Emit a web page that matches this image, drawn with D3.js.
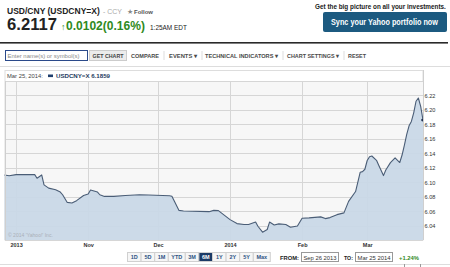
<!DOCTYPE html>
<html><head><meta charset="utf-8">
<script src="https://cdn.jsdelivr.net/npm/d3@7"></script>
<style>
html,body{margin:0;padding:0;background:#fff;}
svg{display:block;}
text{font-family:"Liberation Sans",Arial,sans-serif;}
</style></head>
<body>
<svg id="c" width="450" height="267"></svg>
<script>
// ---- data ----
const dates = ["2013-09-26","2013-09-28","2013-10-01","2013-10-09","2013-10-10","2013-10-12","2013-10-13","2013-10-15","2013-10-18","2013-10-20","2013-10-21","2013-10-23","2013-10-25","2013-10-27","2013-10-30","2013-11-01","2013-11-02","2013-11-05","2013-11-06","2013-11-08","2013-11-12","2013-11-17","2013-11-23","2013-11-27","2013-12-06","2013-12-07","2013-12-10","2013-12-12","2013-12-23","2013-12-25","2013-12-27","2014-01-01","2014-01-04","2014-01-07","2014-01-09","2014-01-12","2014-01-13","2014-01-15","2014-01-17","2014-01-18","2014-01-20","2014-01-22","2014-01-25","2014-01-27","2014-01-30","2014-02-01","2014-02-04","2014-02-09","2014-02-11","2014-02-13","2014-02-16","2014-02-19","2014-02-21","2014-02-24","2014-02-26","2014-02-27","2014-02-28","2014-03-01","2014-03-02","2014-03-03","2014-03-05","2014-03-06","2014-03-08","2014-03-09","2014-03-11","2014-03-13","2014-03-15","2014-03-16","2014-03-17","2014-03-18","2014-03-19","2014-03-20","2014-03-21","2014-03-22","2014-03-23","2014-03-24","2014-03-25"];
const values = [6.1100,6.1090,6.1105,6.1105,6.1055,6.1100,6.0963,6.0918,6.0895,6.0863,6.0826,6.0720,6.0712,6.0744,6.0816,6.0836,6.0891,6.0863,6.0826,6.0803,6.0803,6.0816,6.0826,6.0822,6.0812,6.0805,6.0610,6.0602,6.0592,6.0610,6.0606,6.0482,6.0427,6.0414,6.0414,6.0448,6.0390,6.0308,6.0345,6.0448,6.0407,6.0423,6.0414,6.0377,6.0393,6.0500,6.0506,6.0520,6.0496,6.0510,6.0551,6.0575,6.0734,6.0871,6.1138,6.1146,6.1179,6.1300,6.1352,6.1362,6.1303,6.1230,6.1091,6.1169,6.1270,6.1336,6.1272,6.1376,6.1513,6.1660,6.1780,6.1840,6.1960,6.2120,6.2165,6.2050,6.1859];
const yTicks = [6.04,6.06,6.08,6.10,6.12,6.14,6.16,6.18,6.20,6.22];
const yGrid = [6.04,6.06,6.08,6.10,6.12,6.14,6.16,6.18,6.20,6.22,6.24];
const xTickDates = ["2013-10-01","2013-11-01","2013-12-01","2014-01-01","2014-02-01","2014-03-01"];
const xTickLabels = ["2013","Nov","Dec","2014","Feb","Mar"];
const rangeButtons = ["1D","5D","1M","YTD","3M","6M","1Y","2Y","5Y","Max"];
const selectedRange = "6M";
const toolbarItems = ["COMPARE","EVENTS \u25BE","TECHNICAL INDICATORS \u25BE","CHART SETTINGS \u25BE","RESET"];
const title = "USD/CNY (USDCNY=X)";
const price = "6.2117";
const change = "0.0102(0.16%)";
const timeLabel = "1:25AM EDT";
const legendDate = "Mar 25, 2014:";
const legendSeries = "USDCNY=X 6.1859";
const fromDate = "Sep 26 2013", toDate = "Mar 25 2014", pctChange = "+1.24%";

// ---- drawing ----
const svg = d3.select("#c");
const parse = d3.timeParse("%Y-%m-%d");
const data = dates.map((d,i)=>({d:parse(d), v:values[i]}));

// text helper: if width w is given, the text is scaled horizontally to that width
function txt(x,y,s,o){
  o=o||{};
  const t=svg.append("text").attr("x",0).attr("y",0).text(s)
    .attr("font-size",o.size||6).attr("fill",o.fill||"#333")
    .attr("font-weight",o.bold?"bold":"normal")
    .attr("text-anchor",o.anchor||"start");
  if(o.family) t.attr("font-family",o.family);
  let sx=1;
  if(o.w){ const len=t.node().getComputedTextLength(); if(len>0) sx=o.w/len; }
  t.attr("transform",`translate(${x},${y}) scale(${sx},1)`);
  return t;
}

// header
txt(7,14,title,{size:8.6,bold:true,fill:"#222",w:93});
txt(103,14,"- CCY",{size:6.5,fill:"#aaa",w:19});
txt(127,14,"\u2605",{size:6.5,fill:"#888"});
txt(134,14,"Follow",{size:6,fill:"#555",bold:true,w:19});
txt(7,30,price,{size:16.8,bold:true,fill:"#222",w:50});
txt(61,30,"\u2191",{size:9,bold:true,fill:"#2f8a22"});
txt(66,30,change,{size:12,bold:true,fill:"#2f8a22",w:79});
txt(150,29.5,timeLabel,{size:6.5,fill:"#222",w:37});
txt(315,9,"Get the big picture on all your investments.",{size:7,bold:true,fill:"#222",w:131});
svg.append("rect").attr("x",323).attr("y",12).attr("width",124).attr("height",20).attr("rx",2).attr("fill","#1c5a80");
txt(331,25,"Sync your Yahoo portfolio now",{size:8.5,bold:true,fill:"#fff",w:107});
svg.append("rect").attr("x",0).attr("y",42).attr("width",448).attr("height",1.6).attr("fill","#2a2a2a");

// toolbar
svg.append("rect").attr("x",5.5).attr("y",50.5).attr("width",82).attr("height",10).attr("fill","#fff").attr("stroke","#2b4a8a").attr("stroke-width",1);
txt(7.5,57.8,"Enter name(s) or symbol(s)",{size:6,fill:"#888",w:72});
svg.append("rect").attr("x",89.5).attr("y",50.5).attr("width",37).attr("height",10).attr("fill","#ececec").attr("stroke","#ccc");
txt(92.5,57.8,"GET CHART",{size:5.6,bold:true,fill:"#444",w:31});
const tbX=[131,169,205,287,348], tbW=[28,28,73,52,18];
toolbarItems.forEach((s,i)=>{
  txt(tbX[i],57.8,s,{size:5.6,bold:true,fill:"#4a4a4a",w:tbW[i]});
  if(i<toolbarItems.length-1){
    svg.append("line").attr("x1",tbX[i]+tbW[i]+5).attr("x2",tbX[i]+tbW[i]+5).attr("y1",51).attr("y2",60).attr("stroke","#ddd");
  }
});
svg.append("line").attr("x1",0).attr("x2",450).attr("y1",66.5).attr("y2",66.5).attr("stroke","#ddd");

// chart
const L=5, R=423, T=81, B=240;
const x = d3.scaleTime().domain([parse("2013-09-26"),parse("2014-03-25")]).range([4.5,423]);
const y = d3.scaleLinear().domain([6.02,6.24]).range([B,T]);

svg.append("rect").attr("x",L).attr("y",70.5).attr("width",R-L).attr("height",B-70.5).attr("fill","#fff").attr("stroke","#ddd");
svg.append("rect").attr("x",L).attr("y",T).attr("width",R-L).attr("height",B-T).attr("fill","#f7f7f7");

// legend
txt(7,77.8,legendDate,{size:5.4,fill:"#444",family:"DejaVu Sans",w:36});
svg.append("rect").attr("x",48).attr("y",74.5).attr("width",5).attr("height",2.6).attr("fill","#1f3f6e");
txt(56,77.8,legendSeries,{size:5.4,bold:true,fill:"#1f3a60",family:"DejaVu Sans",w:54});

// grid
const g = svg.append("g");
g.selectAll("line.h").data(yGrid).join("line").attr("class","h")
  .attr("x1",L).attr("x2",R).attr("y1",d=>Math.round(y(d))+0.5).attr("y2",d=>Math.round(y(d))+0.5)
  .attr("stroke","#d6d6d6");
g.selectAll("line.v").data(xTickDates).join("line").attr("class","v")
  .attr("x1",d=>Math.round(x(parse(d)))+0.5).attr("x2",d=>Math.round(x(parse(d)))+0.5)
  .attr("y1",T).attr("y2",B).attr("stroke","#d6d6d6");

// area + line
const area = d3.area().x(d=>x(d.d)).y0(B).y1(d=>y(d.v));
const line = d3.line().x(d=>x(d.d)).y(d=>y(d.v));
svg.append("path").datum(data).attr("d",area).attr("fill","#c9d8e7").attr("fill-opacity",0.95);
svg.append("path").datum(data).attr("d",line).attr("fill","none").attr("stroke","#4a5d76").attr("stroke-width",1.1).attr("stroke-linejoin","round");
const last = data[data.length-1];
svg.append("circle").attr("cx",x(last.d)-0.5).attr("cy",y(last.v)).attr("r",1.3).attr("fill","#1f3050");

// border lines
svg.append("line").attr("x1",L+0.5).attr("x2",L+0.5).attr("y1",T).attr("y2",B).attr("stroke","#cfcfcf");
svg.append("line").attr("x1",R+0.5).attr("x2",R+0.5).attr("y1",70).attr("y2",B).attr("stroke","#cfcfcf");
svg.append("line").attr("x1",L).attr("x2",R).attr("y1",B+0.5).attr("y2",B+0.5).attr("stroke","#d6d6d6");

txt(8,237.3,"\u00A9 2014 'Yahoo!' Inc.",{size:5,fill:"#aab0b8",family:"DejaVu Sans",w:45});

// y axis
const yAxis = svg.append("g").attr("transform",`translate(${R},0)`)
  .call(d3.axisRight(y).tickValues(yTicks).tickFormat(d3.format(".2f")).tickSize(0).tickPadding(1.5));
yAxis.select(".domain").remove();
yAxis.selectAll("text").attr("font-family","DejaVu Sans").attr("font-size",5.6).attr("fill","#333").attr("dy","0.35em");

// x axis
const xAxis = svg.append("g").attr("transform",`translate(0,${B})`)
  .call(d3.axisBottom(x).tickValues(xTickDates.map(parse)).tickFormat((d,i)=>xTickLabels[i]).tickSize(0).tickPadding(3));
xAxis.select(".domain").remove();
xAxis.selectAll("text").attr("font-family","DejaVu Sans").attr("font-size",5.5).attr("font-weight","bold").attr("fill","#333")
  .attr("x",function(d){ const px=x(d); return Math.max(px,13)-px; }).attr("dy","0.71em");

// range buttons
let bx=127;
rangeButtons.forEach(s=>{
  const w = 6.8 + s.length*3.4;
  const sel = s===selectedRange;
  svg.append("rect").attr("x",bx+0.5).attr("y",252.5).attr("width",w).attr("height",9).attr("fill",sel?"#1b3a66":"#f6f6f6").attr("stroke","#d0d0d0");
  txt(bx+0.5+w/2,259.3,s,{size:5.5,bold:true,fill:sel?"#fff":"#2d5384",anchor:"middle",family:"DejaVu Sans"});
  bx+=w;
});

// from / to
txt(280,259.5,"FROM:",{size:6,bold:true,fill:"#222",w:19});
svg.append("rect").attr("x",301.5).attr("y",252.5).attr("width",37).attr("height",9).attr("fill","#fff").attr("stroke","#999");
txt(303.5,259.5,fromDate,{size:5.8,fill:"#333",w:33});
txt(344,259.5,"TO:",{size:6,bold:true,fill:"#222",w:9});
svg.append("rect").attr("x",355.5).attr("y",252.5).attr("width",37).attr("height",9).attr("fill","#fff").attr("stroke","#999");
txt(357.5,259.5,toDate,{size:5.8,fill:"#333",w:33});
txt(399,259.5,pctChange,{size:6,bold:true,fill:"#2f8a22",w:20});

svg.append("line").attr("x1",0).attr("x2",450).attr("y1",264.5).attr("y2",264.5).attr("stroke","#ddd");
[404,420].forEach(px=>svg.append("line").attr("x1",px+0.5).attr("x2",px+0.5).attr("y1",264).attr("y2",267).attr("stroke","#999"));
</script>
</body></html>
